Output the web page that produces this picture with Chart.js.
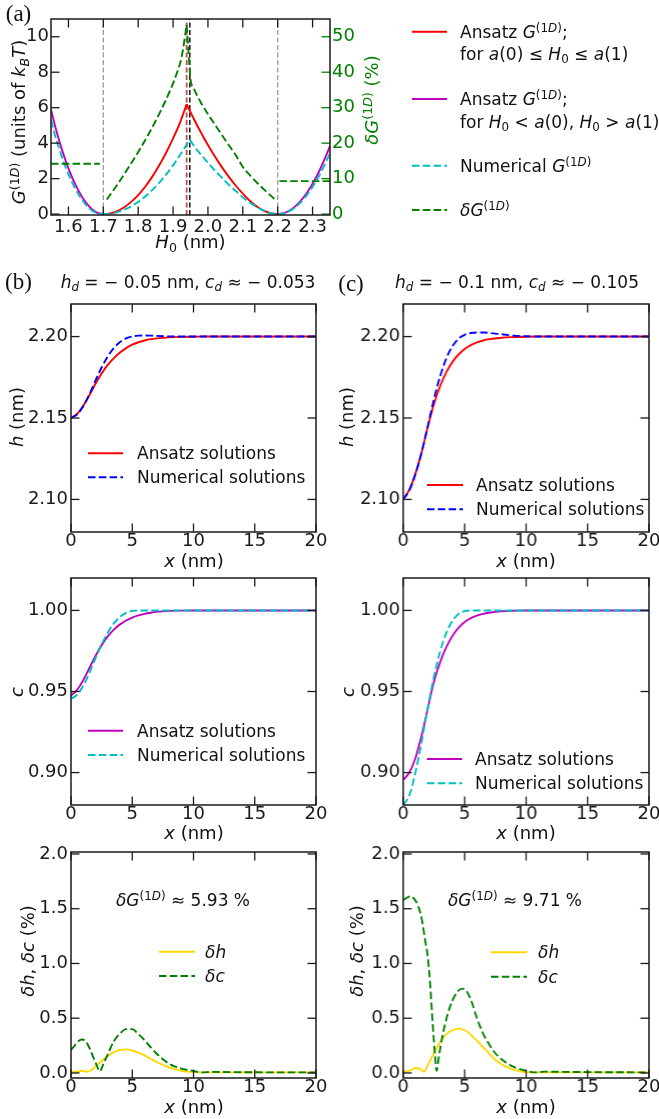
<!DOCTYPE html>
<html>
<head>
<meta charset="utf-8">
<title>G(1D) and profile comparison</title>
<script src="https://cdn.jsdelivr.net/npm/chart.js@4.4.1/dist/chart.umd.min.js"></script>
<style>
  html, body { margin: 0; padding: 0; background: #fff; overflow: hidden; }
  body { position: relative; width: 659px; height: 1119px; font-family: "DejaVu Sans", sans-serif; color: #111; }
  canvas, .t, svg { position: absolute; }
  .t { white-space: nowrap; line-height: 1; font-size: 18px; z-index: 3; }
  .t sup, .t sub { font-size: 70%; line-height: 0; }
  .t sup { vertical-align: 0.5em; }
  .t sub { vertical-align: -0.3em; }
  .serif { font-family: "Liberation Serif", "DejaVu Serif", serif; }
</style>
</head>
<body>
<script>
// ---------- panel (a): G(1D) against H0 ----------
const H0_TICKS = [1.6, 1.7, 1.8, 1.9, 2.0, 2.1, 2.2, 2.3];
const G_TICKS = [0, 2, 4, 6, 8, 10];
const DG_TICKS = [0, 10, 20, 30, 40, 50];
const H0_RANGE = [1.55, 2.35];
const G_RANGE = [-0.05, 11];
const DG_RANGE = [-0.25, 55];

const A_LIMITS = [1.7, 2.2];          // a(0), a(1)
const H0_PEAK_ANS = 1.939;
const H0_PEAK_NUM = 1.948;

// outside [a(0), a(1)]
const H0_OUT_L = [1.55, 1.56, 1.57, 1.58, 1.59, 1.60, 1.62, 1.64, 1.66, 1.68, 1.70];
const G_ANS_OUT_L = [5.88, 5.10, 4.38, 3.72, 3.12, 2.58, 1.66, 0.94, 0.42, 0.10, 0];
const G_NUM_OUT_L = [5.30, 4.55, 3.90, 3.30, 2.75, 2.25, 1.42, 0.78, 0.32, 0.07, 0];
const H0_OUT_R = [2.20, 2.22, 2.24, 2.26, 2.28, 2.30, 2.32, 2.34, 2.35];
const G_ANS_OUT_R = [0, 0.07, 0.27, 0.62, 1.09, 1.71, 2.46, 3.35, 3.85];
const G_NUM_OUT_R = [0, 0.06, 0.24, 0.55, 0.98, 1.53, 2.20, 3.00, 3.45];

// inside [a(0), a(1)]
const H0_ANS_IN_L = [1.70, 1.72, 1.74, 1.76, 1.78, 1.80, 1.82, 1.84, 1.86, 1.88, 1.90, 1.92, 1.939];
const G_ANS_IN_L = [0, 0.04, 0.17, 0.39, 0.69, 1.07, 1.54, 2.10, 2.74, 3.46, 4.27, 5.16, 6.20];
const H0_ANS_IN_R = [1.939, 1.96, 1.98, 2.00, 2.02, 2.04, 2.06, 2.08, 2.10, 2.12, 2.14, 2.16, 2.18, 2.20];
const G_ANS_IN_R = [6.20, 5.35, 4.60, 3.90, 3.25, 2.65, 2.10, 1.60, 1.15, 0.75, 0.43, 0.20, 0.05, 0];
const H0_NUM_IN_L = [1.70, 1.72, 1.74, 1.76, 1.78, 1.80, 1.82, 1.84, 1.86, 1.88, 1.90, 1.92, 1.948];
const G_NUM_IN_L = [0, 0.03, 0.11, 0.25, 0.44, 0.69, 0.99, 1.35, 1.76, 2.23, 2.75, 3.33, 4.20];
const H0_NUM_IN_R = [1.948, 1.96, 1.98, 2.00, 2.02, 2.04, 2.06, 2.08, 2.10, 2.12, 2.14, 2.16, 2.18, 2.20];
const G_NUM_IN_R = [4.20, 3.85, 3.35, 2.90, 2.45, 2.05, 1.65, 1.30, 0.95, 0.65, 0.40, 0.20, 0.05, 0];

// relative deviation dG (%)
const H0_DG_OUT_L = [1.55, 1.69];
const DG_OUT_L = [14.2, 14.2];
const H0_DG_IN_L = [1.71, 1.74, 1.77, 1.80, 1.83, 1.86, 1.89, 1.91, 1.925, 1.939];
const DG_IN_L = [4.1, 8.3, 12.8, 17.5, 22.6, 28.2, 34.5, 39.5, 44.5, 53.3];
const H0_DG_IN_R = [1.939, 1.944, 1.95, 1.96, 1.98, 2.00, 2.02, 2.04, 2.06, 2.08, 2.10, 2.12, 2.14, 2.16, 2.18, 2.195];
const DG_IN_R = [53.3, 46.0, 38.0, 35.3, 31.4, 28.2, 25.2, 22.3, 19.4, 16.6, 13.3, 11.0, 8.9, 7.0, 5.2, 3.9];
const H0_DG_OUT_R = [2.205, 2.35];
const DG_OUT_R = [9.3, 9.3];

// ---------- panels (b), (c): profiles along x ----------
const X_TICKS = [0, 5, 10, 15, 20];
const H_TICKS = [2.10, 2.15, 2.20];
const C_TICKS = [0.90, 0.95, 1.00];
const D_TICKS = [0.0, 0.5, 1.0, 1.5, 2.0];
const X_RANGE = [0, 20];
const H_RANGE = [2.08, 2.22];
const C_RANGE = [0.88, 1.02];
const D_RANGE = [-0.046, 2.018];

const X_PROF = [0, 0.5, 1, 1.5, 2, 2.5, 3, 3.5, 4, 4.5, 5, 5.5, 6, 6.5, 7, 8, 9, 10, 11, 12, 15, 20];
const H_ANS_B = [2.1500, 2.1525, 2.1575, 2.1640, 2.1710, 2.1773, 2.1826, 2.1868, 2.1902, 2.1929, 2.1950,
  2.1965, 2.1976, 2.1984, 2.1989, 2.1995, 2.1998, 2.1999, 2.2000, 2.2000, 2.2000, 2.2000];
const H_NUM_B = [2.1500, 2.1522, 2.1572, 2.1645, 2.1730, 2.1810, 2.1878, 2.1930, 2.1966, 2.1989, 2.2001,
  2.2006, 2.2007, 2.2006, 2.2004, 2.2001, 2.2000, 2.2000, 2.2000, 2.2000, 2.2000, 2.2000];
const H_ANS_C = [2.1000, 2.1060, 2.1160, 2.1290, 2.1445, 2.1585, 2.1695, 2.1780, 2.1843, 2.1890, 2.1924,
  2.1948, 2.1964, 2.1976, 2.1984, 2.1993, 2.1997, 2.1999, 2.2000, 2.2000, 2.2000, 2.2000];
const H_NUM_C = [2.1000, 2.1055, 2.1155, 2.1290, 2.1450, 2.1615, 2.1755, 2.1865, 2.1940, 2.1987, 2.2011,
  2.2022, 2.2025, 2.2025, 2.2022, 2.2014, 2.2006, 2.2002, 2.2000, 2.2000, 2.2000, 2.2000];
const C_ANS_B = [0.9475, 0.9510, 0.9570, 0.9645, 0.9720, 0.9786, 0.9840, 0.9882, 0.9914, 0.9938, 0.9956,
  0.9969, 0.9979, 0.9986, 0.9991, 0.9997, 0.9999, 1.0, 1.0, 1.0, 1.0, 1.0];
const C_NUM_B = [0.9455, 0.9480, 0.9535, 0.9615, 0.9705, 0.9790, 0.9862, 0.9920, 0.9960, 0.9985, 0.9997,
  1.0, 1.0, 1.0, 1.0, 1.0, 1.0, 1.0, 1.0, 1.0, 1.0, 1.0];
const C_ANS_C = [0.8955, 0.9000, 0.9090, 0.9230, 0.9395, 0.9560, 0.9680, 0.9772, 0.9843, 0.9893, 0.9928,
  0.9952, 0.9968, 0.9979, 0.9986, 0.9995, 0.9998, 1.0, 1.0, 1.0, 1.0, 1.0];
const C_NUM_C = [0.8800, 0.8860, 0.9000, 0.9190, 0.9400, 0.9590, 0.9745, 0.9860, 0.9935, 0.9978, 0.9996,
  1.0, 1.0, 1.0, 1.0, 1.0, 1.0, 1.0, 1.0, 1.0, 1.0, 1.0];

// relative deviations dh, dc (%)
const X_DH_B = [0, 0.5, 1.0, 1.3, 1.6, 2.0, 2.5, 3.0, 3.5, 4.0, 4.5, 5.0, 5.5, 6.0, 6.5, 7.0, 7.5, 8.0, 8.5, 9.0, 9.5, 10, 11, 15, 20];
const DH_B = [0.010, 0.012, 0.020, 0.010, 0.022, 0.060, 0.110, 0.155, 0.190, 0.210, 0.215, 0.205, 0.185, 0.160,
  0.130, 0.100, 0.075, 0.050, 0.033, 0.020, 0.012, 0.008, 0.005, 0.005, 0.005];
const X_DC_B = [0, 0.3, 0.6, 0.9, 1.2, 1.5, 1.8, 2.1, 2.35, 2.6, 3.0, 3.5, 4.0, 4.5, 5.0, 5.5, 6.0, 6.5, 7.0, 7.5,
  8.0, 8.5, 9.0, 9.5, 10, 10.7, 11.5, 13, 15, 20];
const DC_B = [0.21, 0.25, 0.29, 0.305, 0.29, 0.23, 0.15, 0.07, 0.015, 0.07, 0.17, 0.29, 0.36, 0.40, 0.40, 0.355,
  0.30, 0.235, 0.175, 0.125, 0.085, 0.058, 0.040, 0.028, 0.018, 0.005, 0.010, 0.008, 0.006, 0.005];
const X_DH_C = [0, 0.5, 1.0, 1.3, 1.7, 2.0, 2.5, 3.0, 3.5, 4.0, 4.5, 5.0, 5.5, 6.0, 6.5, 7.0, 7.5, 8.0, 8.5, 9.0, 9.5, 10, 11, 15, 20];
const DH_C = [0.010, 0.020, 0.045, 0.040, 0.010, 0.070, 0.180, 0.280, 0.355, 0.390, 0.405, 0.390, 0.350, 0.295,
  0.235, 0.175, 0.120, 0.080, 0.050, 0.030, 0.015, 0.008, 0.005, 0.005, 0.005];
const X_DC_C = [0, 0.3, 0.6, 0.9, 1.2, 1.5, 1.8, 2.0, 2.2, 2.4, 2.6, 2.72, 2.9, 3.2, 3.6, 4.0, 4.4, 4.8, 5.2, 5.6,
  6.0, 6.5, 7.0, 7.5, 8.0, 8.5, 9.0, 9.5, 10, 10.8, 11.5, 13, 15, 20];
const DC_C = [1.58, 1.60, 1.615, 1.59, 1.53, 1.41, 1.20, 1.06, 0.80, 0.45, 0.15, 0.02, 0.15, 0.34, 0.53, 0.66,
  0.74, 0.77, 0.74, 0.64, 0.50, 0.36, 0.26, 0.18, 0.125, 0.085, 0.055, 0.035, 0.020, 0.005, 0.012, 0.010, 0.008, 0.005];

// ---------- styles ----------
const INK = '#1a1a1a';
const RED = '#ff0000', BLUE = '#0000ff', MAGENTA = '#bf00bf', CYAN = '#00bfbf', GREEN = '#008000', GOLD = '#ffd700';
const DASH = [7.5, 3.3];
const LW = 1.9;

const pts = (xs, ys) => xs.map((x, i) => ({x, y: ys[i]}));

function seg(xs, ys, color, dash, yAxisID) {
  return {
    data: pts(xs, ys), borderColor: color, borderWidth: LW, borderDash: dash || [],
    pointRadius: 0, fill: false, cubicInterpolationMode: 'monotone', yAxisID: yAxisID || 'y'
  };
}

function vline(x, range, color, dash, width) {
  return {
    data: [{x, y: range[0]}, {x, y: range[1]}], borderColor: color, borderWidth: width,
    borderDash: dash, pointRadius: 0, fill: false, tension: 0
  };
}

// box frame with inward ticks on all sides
const frame = {
  id: 'frame',
  afterDatasetsDraw(chart) {
    const {ctx, chartArea: a, scales} = chart;
    const L = 8.5;
    const line = (x1, y1, x2, y2, c) => {
      ctx.strokeStyle = c; ctx.beginPath(); ctx.moveTo(x1, y1); ctx.lineTo(x2, y2); ctx.stroke();
    };
    ctx.save();
    ctx.lineWidth = 1.3;
    scales.x.ticks.forEach(t => {
      const p = scales.x.getPixelForValue(t.value);
      line(p, a.bottom, p, a.bottom - L, INK);
      line(p, a.top, p, a.top + L, INK);
    });
    scales.y.ticks.forEach(t => {
      const p = scales.y.getPixelForValue(t.value);
      line(a.left, p, a.left + L, p, INK);
      if (!scales.y2) line(a.right, p, a.right - L, p, INK);
    });
    if (scales.y2) {
      scales.y2.ticks.forEach(t => {
        const p = scales.y2.getPixelForValue(t.value);
        line(a.right, p, a.right - L, p, GREEN);
      });
    }
    ctx.lineWidth = 1.5;
    ctx.strokeStyle = INK;
    ctx.strokeRect(a.left, a.top, a.right - a.left, a.bottom - a.top);
    ctx.restore();
  }
};

function axis(spec, pos, size) {
  return {
    type: 'linear', position: pos, bounds: 'data',
    min: spec.range[0], max: spec.range[1],
    grid: {display: false, drawTicks: false},
    border: {display: false},
    afterBuildTicks: s => { s.ticks = spec.ticks.map(v => ({value: v})); },
    afterFit: s => {
      if (pos === 'bottom') s.height = size; else s.width = size;
      s.paddingLeft = s.paddingRight = s.paddingTop = s.paddingBottom = 0;
    },
    ticks: {
      autoSkip: false, maxRotation: 0, minRotation: 0, padding: spec.pad,
      color: spec.color || INK,
      font: {family: 'DejaVu Sans', size: 18, lineHeight: 1},
      callback: v => Number(v).toFixed(spec.digits)
    }
  };
}

// box = plot area in page pixels, pad = room around it for tick labels
function makeChart(box, pad, datasets, xs, ys, y2s) {
  const c = document.createElement('canvas');
  const w = box.w + pad.l + pad.r, h = box.h + pad.t + pad.b;
  c.width = w; c.height = h;
  c.style.width = w + 'px'; c.style.height = h + 'px';
  c.style.left = (box.x - pad.l) + 'px';
  c.style.top = (box.y - pad.t) + 'px';
  document.body.appendChild(c);
  const scales = {x: axis(xs, 'bottom', pad.b), y: axis(ys, 'left', pad.l)};
  if (y2s) scales.y2 = axis(y2s, 'right', pad.r);
  return new Chart(c, {
    type: 'line',
    data: {datasets},
    options: {
      responsive: false, animation: false, events: [],
      layout: {autoPadding: false, padding: {left: 0, top: pad.t, right: y2s ? 0 : pad.r, bottom: 0}},
      plugins: {legend: {display: false}, tooltip: {enabled: false}},
      scales
    },
    plugins: [frame]
  });
}

// ---------- panel (a) ----------
makeChart({x: 51, y: 19, w: 279, h: 196}, {l: 51, r: 40, t: 8, b: 26}, [
  seg(H0_DG_OUT_L, DG_OUT_L, GREEN, DASH, 'y2'),
  seg(H0_DG_IN_L, DG_IN_L, GREEN, DASH, 'y2'),
  seg(H0_DG_IN_R, DG_IN_R, GREEN, DASH, 'y2'),
  seg(H0_DG_OUT_R, DG_OUT_R, GREEN, DASH, 'y2'),
  seg(H0_OUT_L, G_NUM_OUT_L, CYAN, DASH),
  seg(H0_NUM_IN_L, G_NUM_IN_L, CYAN, DASH),
  seg(H0_NUM_IN_R, G_NUM_IN_R, CYAN, DASH),
  seg(H0_OUT_R, G_NUM_OUT_R, CYAN, DASH),
  seg(H0_OUT_L, G_ANS_OUT_L, MAGENTA),
  seg(H0_OUT_R, G_ANS_OUT_R, MAGENTA),
  seg(H0_ANS_IN_L, G_ANS_IN_L, RED),
  seg(H0_ANS_IN_R, G_ANS_IN_R, RED),
  vline(H0_PEAK_NUM, G_RANGE, '#222', [5, 2.5], 1.6),
  vline(H0_PEAK_ANS, G_RANGE, '#b5504c', [5, 2.5], 1.8),
  vline(A_LIMITS[0], G_RANGE, '#999', [5, 2.5], 1.3),
  vline(A_LIMITS[1], G_RANGE, '#999', [5, 2.5], 1.3)
],
  {range: H0_RANGE, ticks: H0_TICKS, digits: 1, pad: 3},
  {range: G_RANGE, ticks: G_TICKS, digits: 0, pad: 2},
  {range: DG_RANGE, ticks: DG_TICKS, digits: 0, pad: 2, color: GREEN});

// ---------- panels (b), (c) ----------
const xAxis = {range: X_RANGE, ticks: X_TICKS, digits: 0, pad: 0};
const hAxis = {range: H_RANGE, ticks: H_TICKS, digits: 2, pad: 3};
const cAxis = {range: C_RANGE, ticks: C_TICKS, digits: 2, pad: 3};
const dAxis = {range: D_RANGE, ticks: D_TICKS, digits: 1, pad: 3};
const COLS = [
  {x: 71, w: 245, h: [H_ANS_B, H_NUM_B], c: [C_ANS_B, C_NUM_B], d: [X_DH_B, DH_B, X_DC_B, DC_B]},
  {x: 403, w: 245.5, h: [H_ANS_C, H_NUM_C], c: [C_ANS_C, C_NUM_C], d: [X_DH_C, DH_C, X_DC_C, DC_C]}
];
const ROWS = [{y: 304, h: 228}, {y: 578, h: 227}, {y: 852, h: 226}];

COLS.forEach(col => {
  const pad = {l: 66, r: 14, t: 10, b: 22};
  makeChart({x: col.x, y: ROWS[0].y, w: col.w, h: ROWS[0].h}, pad, [
    seg(X_PROF, col.h[1], BLUE, DASH),
    seg(X_PROF, col.h[0], RED)
  ], xAxis, hAxis);
  makeChart({x: col.x, y: ROWS[1].y, w: col.w, h: ROWS[1].h}, pad, [
    seg(X_PROF, col.c[1], CYAN, DASH),
    seg(X_PROF, col.c[0], MAGENTA)
  ], xAxis, cAxis);
  makeChart({x: col.x, y: ROWS[2].y, w: col.w, h: ROWS[2].h}, pad, [
    seg(col.d[2], col.d[3], GREEN, DASH),
    seg(col.d[0], col.d[1], GOLD)
  ], xAxis, dAxis);
});

// ---------- text ----------
function txt(html, x, y, o = {}) {
  const d = document.createElement('div');
  d.className = 't' + (o.cls ? ' ' + o.cls : '');
  d.innerHTML = html;
  d.style.left = x + 'px';
  d.style.top = y + 'px';
  let tf = o.left ? 'translate(0,-50%)' : 'translate(-50%,-50%)';
  if (o.rot) tf += ' rotate(-90deg)';
  d.style.transform = tf;
  if (o.size) d.style.fontSize = o.size + 'px';
  if (o.color) d.style.color = o.color;
  document.body.appendChild(d);
}

const svg = document.createElementNS('http://www.w3.org/2000/svg', 'svg');
svg.setAttribute('width', 659); svg.setAttribute('height', 1119);
svg.style.left = '0px'; svg.style.top = '0px'; svg.style.zIndex = 2;
document.body.appendChild(svg);

function key(x1, x2, y, color, dash, label, tx) {
  const l = document.createElementNS('http://www.w3.org/2000/svg', 'line');
  l.setAttribute('x1', x1); l.setAttribute('x2', x2);
  l.setAttribute('y1', y); l.setAttribute('y2', y);
  l.setAttribute('stroke', color); l.setAttribute('stroke-width', LW);
  if (dash) l.setAttribute('stroke-dasharray', dash.join(' '));
  svg.appendChild(l);
  if (label) txt(label, tx, y, {left: true, size: 17});
}

const G1D = '<i>G</i><sup>(1<i>D</i>)</sup>';
const DG1D = '<i>δG</i><sup>(1<i>D</i>)</sup>';
const XNM = '<i>x</i> (nm)';

txt('(a)', 18.5, 13, {cls: 'serif', size: 23});
txt('(b)', 18.5, 281, {cls: 'serif', size: 23});
txt('(c)', 351, 283, {cls: 'serif', size: 23});

txt(G1D + ' (units of <i>k</i><sub><i>B</i></sub><i>T</i>)', 19, 122, {rot: true});
txt(DG1D + ' (%)', 372, 100, {rot: true, color: GREEN});
txt('<i>H</i><sub>0</sub> (nm)', 190.5, 242);

key(412, 447, 31.7, RED, null, 'Ansatz ' + G1D + ';', 460);
txt('for <i>a</i>(0) ≤ <i>H</i><sub>0</sub> ≤ <i>a</i>(1)', 460, 53.5, {left: true, size: 17});
key(412, 447, 99, MAGENTA, null, 'Ansatz ' + G1D + ';', 460);
txt('for <i>H</i><sub>0</sub> &lt; <i>a</i>(0), <i>H</i><sub>0</sub> &gt; <i>a</i>(1)', 460, 122.3, {left: true, size: 17});
key(412, 447, 165.7, CYAN, DASH, 'Numerical ' + G1D, 460);
key(412, 447, 210, GREEN, DASH, DG1D, 460);

txt('<i>h</i><sub><i>d</i></sub> = − 0.05 nm, <i>c</i><sub><i>d</i></sub> ≈ − 0.053', 188, 281.5, {size: 17});
txt('<i>h</i><sub><i>d</i></sub> = − 0.1 nm, <i>c</i><sub><i>d</i></sub> ≈ − 0.105', 517, 281.5, {size: 17});

[{cx: 194, ly: [16.5, 17, 27.5]}, {cx: 526, ly: [347, 348, 357]}].forEach(p => {
  txt(XNM, p.cx, 560.7);
  txt(XNM, p.cx, 833.3);
  txt(XNM, p.cx, 1106.7);
  txt('<i>h</i> (nm)', p.ly[0], 417, {rot: true});
  txt('<i>c</i>', p.ly[1], 692, {rot: true});
  txt('<i>δh</i>, <i>δc</i> (%)', p.ly[2], 951, {rot: true});
});

key(88, 123, 453.3, RED, null, 'Ansatz solutions', 137);
key(88, 123, 477.3, BLUE, DASH, 'Numerical solutions', 137);
key(427, 463, 485, RED, null, 'Ansatz solutions', 476);
key(427, 463, 509.3, BLUE, DASH, 'Numerical solutions', 476);

key(88, 123, 730.7, MAGENTA, null, 'Ansatz solutions', 137);
key(88, 123, 755, CYAN, DASH, 'Numerical solutions', 137);
key(427, 462, 759, MAGENTA, null, 'Ansatz solutions', 475);
key(427, 462, 783.3, CYAN, DASH, 'Numerical solutions', 475);

txt(DG1D + ' ≈ 5.93 %', 183, 900, {size: 17});
txt(DG1D + ' ≈ 9.71 %', 515, 900, {size: 17});
key(159, 195, 951.7, GOLD, null, '<i>δh</i>', 205);
key(159, 195, 976, GREEN, DASH, '<i>δc</i>', 205);
key(491, 527, 952.3, GOLD, null, '<i>δh</i>', 538);
key(491, 527, 976.7, GREEN, DASH, '<i>δc</i>', 538);
</script>
</body>
</html>
